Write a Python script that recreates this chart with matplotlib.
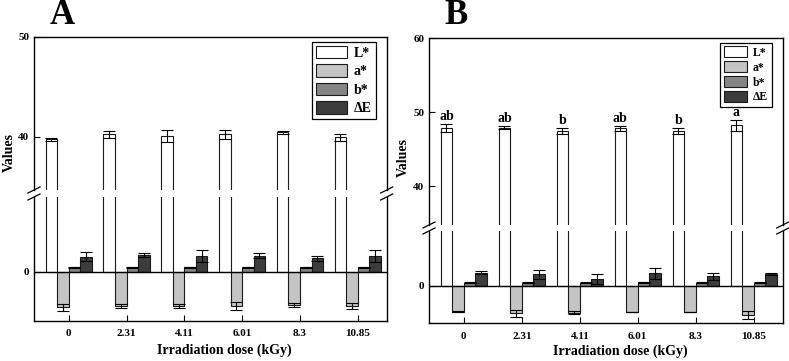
import numpy as np
import matplotlib
matplotlib.use("Agg")
import matplotlib.pyplot as plt
from matplotlib.lines import Line2D

plt.rcParams['font.family'] = ['Liberation Serif', 'DejaVu Serif']
plt.rcParams['font.weight'] = 'bold'

# datos
dosis = ["0", "2.31", "4.11", "6.01", "8.3", "10.85"]
series = ["L*", "a*", "b*", "ΔE"]
colores = ["#ffffff", "#c4c4c4", "#858585", "#3c3c3c"]

# Panel A
A_L = [39.75, 40.25, 40.1, 40.25, 40.45, 39.95]
A_L_err = [0.12, 0.35, 0.6, 0.45, 0.12, 0.35]
A_a = [-3.55, -3.4, -3.43, -3.4, -3.33, -3.4]
A_a_err = [0.35, 0.2, 0.2, 0.42, 0.18, 0.3]
A_b = [0.45, 0.45, 0.45, 0.45, 0.45, 0.45]
A_b_err = [0.05, 0.06, 0.03, 0.05, 0.05, 0.05]
A_E = [1.5, 1.63, 1.57, 1.6, 1.37, 1.57]
A_E_err = [0.45, 0.2, 0.6, 0.23, 0.25, 0.6]

# Panel B
B_L = [47.84, 47.92, 47.43, 47.84, 47.43, 48.24]
B_L_err = [0.55, 0.22, 0.4, 0.32, 0.4, 0.72]
B_a = [-3.47, -3.69, -3.6, -3.47, -3.47, -3.92]
B_a_err = [0.07, 0.5, 0.2, 0.02, 0.02, 0.54]
B_b = [0.45, 0.45, 0.45, 0.5, 0.45, 0.45]
B_b_err = [0.05, 0.05, 0.05, 0.05, 0.05, 0.07]
B_E = [1.8, 1.58, 0.95, 1.71, 1.31, 1.62]
B_E_err = [0.2, 0.58, 0.7, 0.74, 0.5, 0.08]
B_letras = ["ab", "ab", "b", "ab", "b", "a"]

W, H = 789, 361
fig = plt.figure(figsize=(W / 100, H / 100), dpi=100)


def caja(x0, x1, ytop, ybot):
    # pixeles -> fraccion de figura
    return [x0 / W, 1 - ybot / H, (x1 - x0) / W, (ybot - ytop) / H]


def panel(x0, x1, ytop, ygap1, ygap2, ybot, lim_sup, lim_inf, ticks_sup,
          datos, errores, leg_fs, leg_hl, leg_ls, letras=None):
    ax_s = fig.add_axes(caja(x0, x1, ytop, ygap1))
    ax_i = fig.add_axes(caja(x0, x1, ygap2, ybot))
    x = np.arange(len(dosis))
    ancho = 0.2
    for ax in (ax_s, ax_i):
        for k in range(4):
            ax.bar(x + (k - 1.5) * ancho, datos[k], ancho, color=colores[k],
                   edgecolor="#1a1a1a", linewidth=0.8, label=series[k],
                   yerr=errores[k], capsize=4,
                   error_kw=dict(elinewidth=0.8, capthick=0.8, ecolor="black"))
        ax.set_xlim(-0.6, 5.5)
        ax.tick_params(direction="in", length=4, width=0.8, labelsize=8)
        for s in ax.spines.values():
            s.set_linewidth(1.0)
    ax_s.set_ylim(*lim_sup)
    ax_i.set_ylim(*lim_inf)
    ax_i.axhline(0, color="black", lw=1)
    ax_s.spines["bottom"].set_visible(False)
    ax_i.spines["top"].set_visible(False)
    ax_s.set_xticks([])
    ax_s.set_yticks(ticks_sup)
    ax_i.set_yticks([0])
    ax_i.set_xticks(x)
    ax_i.set_xticklabels(dosis)
    ax_i.tick_params(axis="x", pad=6)
    for t in ax_s.get_yticklabels() + ax_i.get_yticklabels() + ax_i.get_xticklabels():
        t.set_fontweight("bold")

    if letras is not None:
        for i, l in enumerate(letras):
            ax_s.text(x[i] - 1.5 * ancho, datos[0][i] + errores[0][i] + 0.15, l,
                      ha="center", va="bottom", fontsize=10, fontweight="bold")

    # marcas de corte del eje
    for xp in (x0, x1):
        for yp in (ygap1, ygap2):
            fig.add_artist(Line2D([(xp - 6) / W, (xp + 6) / W],
                                  [1 - (yp + 3) / H, 1 - (yp - 3) / H],
                                  color="black", lw=0.9))

    leg = ax_s.legend(loc="upper right", bbox_to_anchor=((x1 - 11) / W, 1 - (ytop + 4.5) / H),
                      bbox_transform=fig.transFigure, borderaxespad=0,
                      fancybox=False, edgecolor="black", framealpha=1,
                      prop=dict(size=leg_fs, weight="bold"), handlelength=leg_hl,
                      handleheight=1.0, labelspacing=leg_ls, handletextpad=0.5,
                      borderpad=0.3)
    leg.get_frame().set_linewidth(0.9)
    return ax_s, ax_i


panel(34, 386.7, 37, 190, 197, 321, (34.7, 50), (-4.93, 7.47), [40, 50],
      [A_L, A_a, A_b, A_E], [A_L_err, A_a_err, A_b_err, A_E_err],
      10, 2.2, 0.33)
panel(429, 782.7, 38.3, 225, 231, 323.3, (34.77, 60), (-5.04, 7.43), [40, 50, 60],
      [B_L, B_a, B_b, B_E], [B_L_err, B_a_err, B_b_err, B_E_err],
      8.5, 2.0, 0.22, letras=B_letras)

# etiquetas
fig.text(62 / W, 1 - 16 / H, "A", fontsize=25, fontweight="bold", ha="center", va="center")
fig.text(456 / W, 1 - 16 / H, "B", fontsize=25, fontweight="bold", ha="center", va="center")
fig.text(9 / W, 1 - 153 / H, "Values", rotation=90, fontsize=10, fontweight="bold",
         ha="center", va="center")
fig.text(403 / W, 1 - 157 / H, "Values", rotation=90, fontsize=10, fontweight="bold",
         ha="center", va="center")
fig.text(224 / W, 1 - 350 / H, "Irradiation dose (kGy)", fontsize=10, fontweight="bold",
         ha="center", va="center")
fig.text(620 / W, 1 - 351.5 / H, "Irradiation dose (kGy)", fontsize=10, fontweight="bold",
         ha="center", va="center")

fig.savefig("out.png", dpi=100)
